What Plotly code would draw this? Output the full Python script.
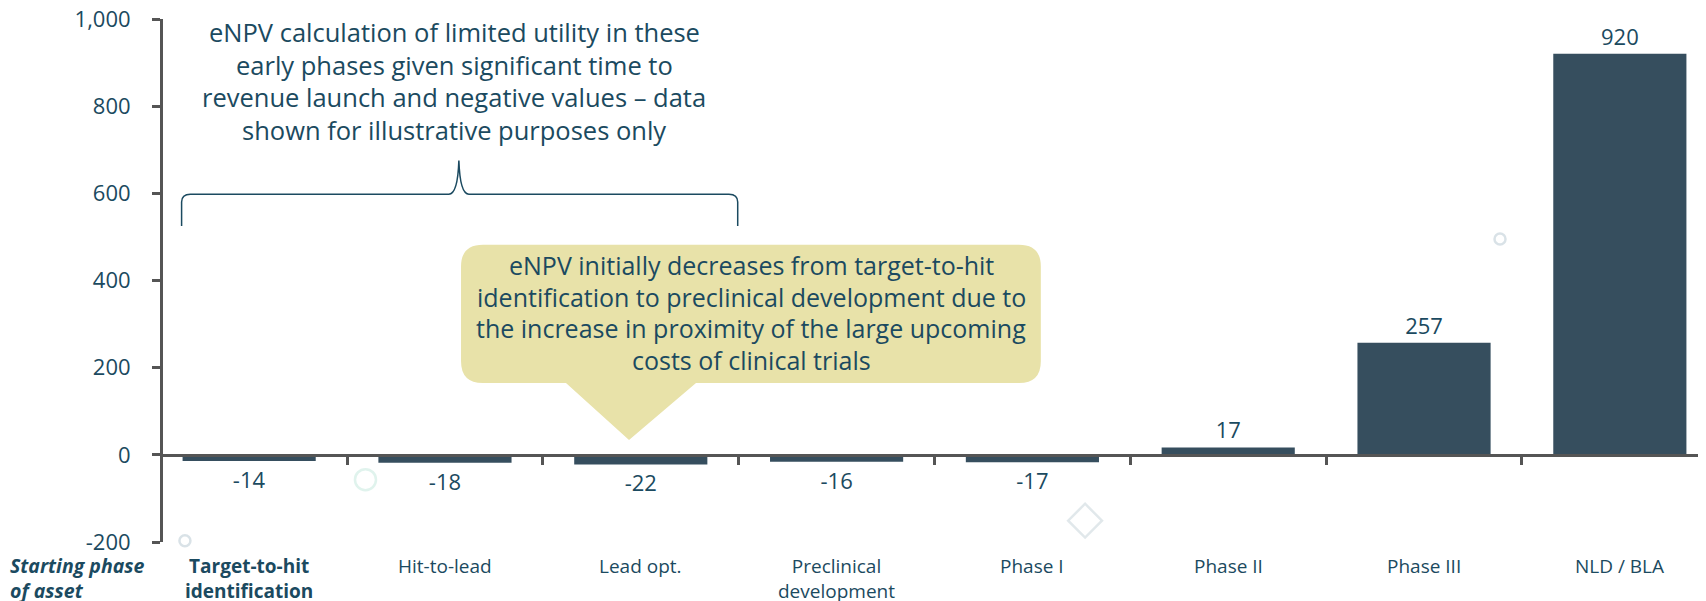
import plotly.graph_objects as go

# phases on the x axis and the eNPV per starting phase
phases = ["Target-to-hit<br>identification", "Hit-to-lead", "Lead opt.",
          "Preclinical<br>development", "Phase I", "Phase II", "Phase III", "NLD / BLA"]
enpv = [-14, -18, -22, -16, -17, 17, 257, 920]
y_ticks = [-200, 0, 200, 400, 600, 800, 1000]
y_tick_labels = ["-200", "0", "200", "400", "600", "800", "1,000"]

note_top = ["eNPV calculation of limited utility in these",
            "early phases given significant time to",
            "revenue launch and negative values \u2013 data",
            "shown for illustrative purposes only"]
note_bubble = ["eNPV initially decreases from target-to-hit",
               "identification to preclinical development due to",
               "the increase in proximity of the large upcoming",
               "costs of clinical trials"]

TXT = "#1b4a60"
BAR = "#364e5e"
AX = "#555555"
FONT = "Open Sans"

fig = go.Figure()
fig.add_trace(go.Bar(
    x=list(range(len(enpv))), y=enpv, width=0.68,
    marker=dict(color=BAR, line=dict(width=0)),
    text=[f"{v:,}" for v in enpv], textposition="outside",
    textfont=dict(family=FONT, size=22, color=TXT),
    cliponaxis=False, showlegend=False,
))

# faint decorative markers
fig.add_trace(go.Scatter(
    x=[-0.328, 0.594, 4.269, 6.388, 6.516], y=[-197, -57, -151, 495, -291],
    mode="markers", cliponaxis=False, showlegend=False, hoverinfo="skip",
    marker=dict(symbol=["circle-open", "circle-open", "diamond-open", "circle-open", "circle-open"],
                size=[11, 21, 26, 11, 21],
                color=["#c9d6dd", "#d3eee5", "#d4dee2", "#c9d6dd", "#d2dee3"],
                line=dict(width=2.5)),
))

# callout bubble
x0, x1, yb, yt, rx, ry = 1.082, 4.043, 165, 482, 0.112, 50
bubble = (f"M {x0+rx},{yt} L {x1-rx},{yt} Q {x1},{yt} {x1},{yt-ry} "
          f"L {x1},{yb+ry} Q {x1},{yb} {x1-rx},{yb} "
          f"L 2.282,{yb} L 1.94,34 L 1.618,{yb} "
          f"L {x0+rx},{yb} Q {x0},{yb} {x0},{yb+ry} L {x0},{yt-ry} Q {x0},{yt} {x0+rx},{yt} Z")
fig.add_shape(type="path", path=bubble, xref="x", yref="y",
              fillcolor="#e8e2a9", line=dict(width=0), layer="below")

# curly brace over the early phases
brace = ("M -0.345,525 L -0.345,580 Q -0.345,598 -0.3,598 L 1.02,598 "
         "Q 1.065,598 1.071,675 Q 1.077,598 1.122,598 L 2.45,598 "
         "Q 2.495,598 2.495,580 L 2.495,525")
fig.add_shape(type="path", path=brace, xref="x", yref="y",
              line=dict(color=TXT, width=1.5))

for i, line in enumerate(note_top):
    fig.add_annotation(x=1.048, y=1.0 - i * 0.0625, xref="x", yref="paper",
                       text=line, showarrow=False, xanchor="center", yanchor="middle",
                       yshift=-13, font=dict(family=FONT, size=25.5, color=TXT))
for i, line in enumerate(note_bubble):
    fig.add_annotation(x=2.563, y=435 - i * 72.2, xref="x", yref="y",
                       text=line, showarrow=False, xanchor="center", yanchor="middle",
                       font=dict(family=FONT, size=25, color=TXT))

for i, name in enumerate(phases):
    label = f"<b>{name}</b>" if i == 0 else name
    fig.add_annotation(x=i, y=0, xref="x", yref="paper", text=label,
                       showarrow=False, xanchor="center", yanchor="top", yshift=-9,
                       font=dict(family=FONT, size=19, color=TXT))
fig.add_annotation(x=0, y=0, xref="paper", yref="paper", xshift=-155,
                   text="<b><i>Starting phase<br>of asset</i></b>", align="left",
                   showarrow=False, xanchor="left", yanchor="top", yshift=-8,
                   font=dict(family=FONT, size=19.5, color=TXT))

fig.update_layout(
    width=1706, height=601,
    margin=dict(l=155, r=8, t=11, b=67, autoexpand=False),
    paper_bgcolor="white", plot_bgcolor="white",
    xaxis=dict(range=[-0.44, 7.44], anchor="free", position=1 / 6,
               showline=True, linecolor=AX, linewidth=3, automargin=False,
               tickvals=[i + 0.5 for i in range(len(phases) - 1)],
               ticks="outside", ticklen=8, tickwidth=3, tickcolor=AX,
               showticklabels=False, showgrid=False, zeroline=False),
    yaxis=dict(range=[-200, 1000], tickvals=y_ticks, ticktext=y_tick_labels,
               showline=True, linecolor=AX, linewidth=3, automargin=False,
               ticks="outside", ticklen=8, tickwidth=3, tickcolor=AX,
               ticklabelstandoff=17, ticklabeloverflow="allow",
               tickfont=dict(family=FONT, size=22, color=TXT),
               showgrid=False, zeroline=False),
)

fig.write_html("out.html")
